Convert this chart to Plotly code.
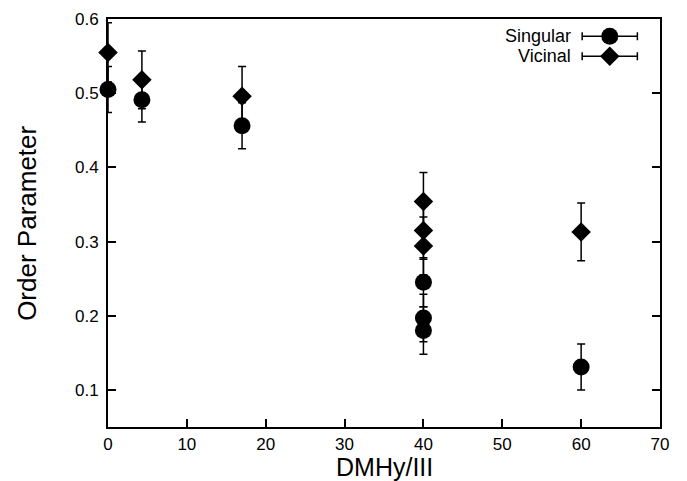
import plotly.graph_objects as go

# ---- data ----
singular_x = [0, 4.3, 17, 40, 40, 40, 60]
singular_y = [0.505, 0.491, 0.456, 0.245, 0.197, 0.180, 0.131]
singular_err = [0.031, 0.030, 0.031, 0.033, 0.032, 0.032, 0.031]

vicinal_x = [0, 4.3, 17, 40, 40, 40, 60]
vicinal_y = [0.555, 0.518, 0.496, 0.354, 0.315, 0.294, 0.313]
vicinal_err = [0.040, 0.039, 0.040, 0.039, 0.039, 0.039, 0.039]

x_ticks = [0, 10, 20, 30, 40, 50, 60, 70]
y_ticks = [0.1, 0.2, 0.3, 0.4, 0.5, 0.6]
series_names = ["Singular", "Vicinal"]
x_title = "DMHy/III"
y_title = "Order Parameter"

FONT = "Liberation Sans, Arial, Helvetica, sans-serif"
BLACK = "#000000"

fig = go.Figure()

err_style = dict(type="data", thickness=1.5, width=4, color=BLACK, visible=True)

fig.add_trace(go.Scatter(
    x=vicinal_x, y=vicinal_y, mode="markers", name=series_names[1],
    marker=dict(symbol="diamond", size=15, color=BLACK),
    error_y=dict(array=vicinal_err, **err_style),
    cliponaxis=False, showlegend=False,
))
fig.add_trace(go.Scatter(
    x=singular_x, y=singular_y, mode="markers", name=series_names[0],
    marker=dict(symbol="circle", size=17, color=BLACK),
    error_y=dict(array=singular_err, **err_style),
    cliponaxis=False, showlegend=False,
))

# ---- hand-drawn legend (gnuplot style: text, then error-bar sample) ----
leg_text_x = 0.842
leg_sample_x = 0.909
leg_rows_y = [0.958, 0.909]
leg_half = 0.05
leg_symbols = ["circle", "diamond"]
leg_sizes = [17, 15]
for name, yy, sym, sz in zip(series_names, leg_rows_y, leg_symbols, leg_sizes):
    fig.add_trace(go.Scatter(
        x=[leg_sample_x], y=[yy], xaxis="x2", yaxis="y2", mode="markers",
        marker=dict(symbol=sym, size=sz, color=BLACK),
        error_x=dict(type="data", array=[leg_half], thickness=1.5, width=4, color=BLACK),
        cliponaxis=False, showlegend=False, hoverinfo="skip",
    ))
    fig.add_annotation(
        x=leg_text_x, y=yy, xref="paper", yref="paper", text=name,
        showarrow=False, xanchor="right", yanchor="middle",
        font=dict(family=FONT, size=18, color=BLACK),
    )

# axis titles
fig.add_annotation(
    x=0.5, y=-0.099, xref="paper", yref="paper", text=x_title, showarrow=False,
    xanchor="center", yanchor="middle", font=dict(family=FONT, size=25, color=BLACK),
)
fig.add_annotation(
    x=-0.147, y=0.5, xref="paper", yref="paper", text=y_title, showarrow=False,
    textangle=-90, xanchor="center", yanchor="middle",
    font=dict(family=FONT, size=26, color=BLACK),
)

axis_common = dict(
    showgrid=False, zeroline=False, showline=True, linecolor=BLACK, linewidth=2,
    ticks="inside", ticklen=8, tickwidth=1.5, tickcolor=BLACK,
    tickfont=dict(family=FONT, size=17, color=BLACK), automargin=False,
)

# page body has an 8px default margin, so the figure is sized to fit the window
fig.update_layout(
    width=679, height=473,
    margin=dict(l=100, r=27, t=11, b=54, autoexpand=False),
    paper_bgcolor="white", plot_bgcolor="white",
    showlegend=False,
    xaxis=dict(
        range=[0, 70], tickvals=x_ticks, ticktext=[str(v) for v in x_ticks],
        mirror=True, ticklabelstandoff=1, **axis_common,
    ),
    yaxis=dict(
        range=[0.05, 0.6], tickvals=y_ticks, ticktext=[f"{v:.1f}" for v in y_ticks],
        mirror="ticks", ticklabelstandoff=4, **axis_common,
    ),
    xaxis2=dict(overlaying="x", range=[0, 1], visible=False, anchor="y2"),
    yaxis2=dict(overlaying="y", range=[0, 1], visible=False, anchor="x2"),
)

fig.write_html("out.html")
